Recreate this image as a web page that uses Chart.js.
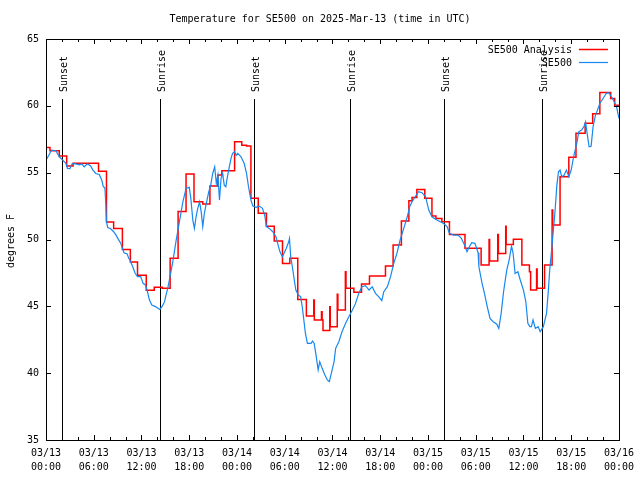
<!DOCTYPE html>
<html>
<head>
<meta charset="utf-8">
<script src="https://cdn.jsdelivr.net/npm/chart.js@4/dist/chart.umd.min.js"></script>
<style>
  body { margin: 0; background: #fff; }
  #wrap { width: 640px; height: 480px; }
</style>
</head>
<body>
<div id="wrap"><canvas id="chart" width="640" height="480"></canvas></div>
<script>
// hours since 03/13 00:00 UTC
var obsHours = [0, 0.35, 0.7, 1.25, 1.67, 2.1, 2.5, 2.7, 3.0, 3.3, 3.75, 4.2, 4.5, 4.8, 5.2, 5.6, 5.9, 6.25, 6.7, 7.0,
  7.2, 7.4, 7.5, 7.6, 7.75, 8.1, 8.5, 8.8, 9.1, 9.4, 9.6, 9.8, 10.2, 10.4, 10.6, 10.9, 11.2, 11.5, 11.9, 12.2,
  12.5, 12.7, 13.0, 13.3, 13.75, 14.2, 14.3, 14.6, 14.9, 15.1, 15.3, 15.5, 15.9, 16.36, 16.8, 17.2, 17.6, 18.0, 18.2, 18.45,
  18.65, 18.86, 19.07, 19.3, 19.5, 19.7, 19.9, 20.1, 20.45, 20.7, 20.95, 21.2, 21.4, 21.6, 21.8, 22.0, 22.2, 22.4, 22.6, 22.8,
  23.0, 23.25, 23.45, 23.7, 23.9, 24.1, 24.5, 24.9, 25.2, 25.45, 25.75, 26.0, 26.4, 26.8, 27.2, 27.5, 27.7, 28.05, 28.5, 28.9,
  29.2, 29.4, 29.7, 29.9, 30.2, 30.5, 30.6, 30.75, 30.96, 31.2, 31.4, 31.7, 32.0, 32.2, 32.4, 32.6, 32.85, 33.3, 33.5, 33.7,
  33.9, 34.2, 34.4, 34.7, 35.05, 35.35, 35.6, 35.9, 36.2, 36.4, 36.8, 37.2, 37.65, 38.06, 38.5, 38.9, 39.3, 39.7, 40.15, 40.6,
  41.0, 41.4, 41.8, 42.2, 42.45, 42.9, 43.3, 43.7, 44.1, 44.5, 44.96, 45.4, 45.7, 46.0, 46.4, 46.8, 47.25, 47.7, 48.1, 48.5,
  49.0, 49.55, 49.96, 50.4, 50.7, 51.2, 51.8, 52.2, 52.6, 52.9, 53.2, 53.5, 53.9, 54.3, 54.4, 54.8, 55.1, 55.4, 55.8, 56.2,
  56.65, 56.9, 57.2, 57.5, 57.9, 58.2, 58.5, 58.7, 58.95, 59.3, 59.6, 60.0, 60.3, 60.55, 60.8, 61.0, 61.2, 61.5, 61.85, 62.1,
  62.5, 62.7, 62.9, 63.1, 63.3, 63.5, 63.7, 63.95, 64.2, 64.4, 64.6, 64.8, 65.1, 65.4, 65.7, 66.0, 66.3, 66.7, 66.95, 67.3,
  67.6, 67.8, 68.0, 68.25, 68.5, 68.75, 69.05, 69.3, 69.6, 70.0, 70.4, 70.7, 71.05, 71.4, 71.7, 72.0];
var obsTemps = [55.94, 56.3, 56.69, 56.64, 56.19, 55.94, 55.7, 55.32, 55.3, 55.68, 55.66, 55.58, 55.66, 55.44, 55.66, 55.5, 55.19, 54.94, 54.86, 54.45,
  53.95, 53.86, 52.82, 51.33, 50.9, 50.82, 50.58, 50.33, 50.01, 49.71, 49.34, 49.01, 48.92, 48.59, 48.39, 47.96, 47.47, 47.22, 47.22, 46.72,
  46.6, 46.22, 45.47, 45.1, 44.98, 44.8, 44.77, 45.0, 45.35, 45.9, 46.35, 46.97, 48.22, 49.96, 51.45, 52.82, 53.82, 53.9, 53.08, 51.45,
  50.83, 51.7, 52.33, 52.82, 52.08, 50.96, 51.96, 52.58, 53.57, 54.07, 54.94, 55.44, 54.2, 54.82, 52.95, 54.57, 54.94, 54.07, 53.95, 54.7,
  55.32, 56.07, 56.44, 56.57, 56.3, 56.44, 56.19, 55.7, 54.94, 53.95, 52.95, 52.5, 52.4, 52.5, 52.33, 51.76, 50.96, 50.83, 50.58, 50.21,
  49.5, 49.08, 48.71, 48.96, 49.34, 49.83, 50.08, 48.71, 47.96, 46.97, 46.22, 45.85, 45.72, 44.97, 43.98, 42.98, 42.23, 42.23, 42.4, 42.23,
  41.48, 40.24, 40.86, 40.36, 39.86, 39.49, 39.36, 40.1, 40.86, 41.86, 42.35, 43.1, 43.73, 44.22, 44.72, 45.22, 45.97, 46.47, 46.55, 46.22,
  46.47, 45.97, 45.72, 45.42, 46.1, 46.47, 47.22, 48.22, 48.96, 49.96, 50.83, 51.7, 52.45, 52.82, 53.2, 53.57, 53.5, 53.2, 52.2, 51.7,
  51.5, 51.33, 51.2, 50.96, 50.46, 50.33, 50.33, 50.08, 49.58, 49.08, 49.46, 49.76, 49.71, 49.01, 47.96, 46.72, 45.97, 45.1, 44.1, 43.85,
  43.66, 43.35, 44.47, 46.09, 47.71, 48.46, 49.51, 48.96, 47.46, 47.59, 46.97, 46.22, 45.34, 43.73, 43.48, 43.48, 43.98, 43.35, 43.48, 43.1,
  43.48, 43.98, 44.47, 45.97, 47.71, 48.96, 50.33, 51.96, 54.07, 55.07, 55.2, 54.7, 54.8, 55.2, 54.7, 55.2, 56.19, 57.19, 58.06, 58.19,
  58.44, 58.8, 57.94, 56.94, 56.97, 58.44, 59.31, 59.68, 60.18, 60.55, 60.93, 60.98, 60.68, 60.3, 59.93, 59.06];

// analysis: each value holds until the next hour entry
var anaHours = [0, 0.5, 1.67, 2.6, 3.4, 6.6, 7.6, 8.5, 9.6, 10.6, 11.5, 12.6, 13.6, 14.6, 15.6, 16.6, 17.6, 18.6, 19.7, 20.6,
  21.6, 22.1, 23.7, 24.6, 25.2, 25.75, 26.67, 27.7, 28.68, 29.72, 30.64, 31.64, 32.72, 33.65, 33.72, 34.62, 34.7, 34.81, 35.66, 35.72,
  36.6, 36.68, 37.62, 37.7, 38.69, 39.65, 40.65, 42.66, 43.62, 44.66, 45.6, 46.0, 46.6, 47.6, 48.5, 49.0, 49.75, 50.7, 52.65, 54.68,
  55.68, 55.75, 56.77, 56.85, 57.77, 57.83, 58.73, 59.8, 60.75, 60.9, 61.65, 61.72, 62.65, 63.6, 63.68, 64.6, 65.7, 66.6, 67.75, 68.7,
  69.6, 70.96, 71.46, 72.0];
var anaTemps = [56.89, 56.64, 56.24, 55.49, 55.7, 55.1, 51.3, 50.83, 49.26, 48.31, 47.32, 46.2, 46.42, 46.35, 48.6, 52.1, 54.9, 52.83, 52.65, 54.0,
  54.82, 55.14, 57.32, 57.06, 57.0, 53.08, 51.96, 51.0, 49.88, 48.2, 48.6, 45.52, 44.27, 45.47, 43.98, 44.6, 43.98, 43.2, 44.97, 43.48,
  45.9, 44.72, 47.59, 46.35, 46.05, 46.67, 47.27, 48.01, 49.58, 51.38, 52.9, 53.15, 53.75, 53.08, 51.76, 51.58, 51.33, 50.38, 49.34, 48.09,
  50.0, 48.39, 50.38, 48.96, 51.0, 49.63, 50.01, 48.09, 47.59, 46.22, 47.79, 46.35, 48.09, 52.2, 51.08, 54.7, 56.15, 57.95, 58.7, 59.4,
  61.0, 60.55, 60.05, 60.05];

var eventHours = [2.04, 14.31, 26.08, 38.23, 50.0, 62.27];
var eventNames = ['Sunset', 'Sunrise', 'Sunset', 'Sunrise', 'Sunset', 'Sunrise'];

var seriesNames = ['SE500 Analysis', 'SE500'];
var seriesColors = ['#ff0000', '#1688f0'];
var yTicks = [35, 40, 45, 50, 55, 60, 65];

var FONT = '"DejaVu Sans Mono", "Liberation Mono", monospace';

function toPoints(xs, ys) {
  var pts = [];
  for (var i = 0; i < xs.length; i++) pts.push({x: xs[i], y: ys[i]});
  return pts;
}
function pad2(n) { return (n < 10 ? '0' : '') + n; }

var gnuplotLook = {
  id: 'gnuplotLook',
  beforeDatasetsDraw: function(chart) {
    var ctx = chart.ctx, a = chart.chartArea, xs = chart.scales.x;
    ctx.save();
    ctx.strokeStyle = '#000';
    ctx.lineWidth = 1;
    ctx.fillStyle = '#000';
    ctx.font = '10px ' + FONT;
    for (var i = 0; i < eventHours.length; i++) {
      var px = Math.round(xs.getPixelForValue(eventHours[i])) + 0.5;
      ctx.beginPath();
      ctx.moveTo(px, a.top + 60);
      ctx.lineTo(px, a.bottom);
      ctx.stroke();
      ctx.save();
      ctx.translate(px + 2, a.top + 53);
      ctx.rotate(-Math.PI / 2);
      ctx.textAlign = 'left';
      ctx.textBaseline = 'middle';
      ctx.fillText(eventNames[i], 0, 0);
      ctx.restore();
    }
    ctx.restore();
  },
  afterDraw: function(chart) {
    var ctx = chart.ctx, a = chart.chartArea, xs = chart.scales.x, ys = chart.scales.y;
    ctx.save();
    ctx.strokeStyle = '#000';
    ctx.lineWidth = 1;
    ctx.strokeRect(Math.round(a.left) + 0.5, Math.round(a.top) + 0.5,
      Math.round(a.right - a.left), Math.round(a.bottom - a.top));
    ctx.beginPath();
    for (var h = 0; h <= 72; h += 2) {
      var px = Math.round(xs.getPixelForValue(h)) + 0.5;
      var len = (h % 6 === 0) ? 5 : 3;
      ctx.moveTo(px, a.bottom); ctx.lineTo(px, a.bottom - len);
      ctx.moveTo(px, a.top); ctx.lineTo(px, a.top + len);
    }
    for (var k = 0; k < yTicks.length; k++) {
      var py = Math.round(ys.getPixelForValue(yTicks[k])) + 0.5;
      ctx.moveTo(a.left, py); ctx.lineTo(a.left + 5, py);
      ctx.moveTo(a.right, py); ctx.lineTo(a.right - 5, py);
    }
    ctx.stroke();

    // title and y axis title
    ctx.fillStyle = '#000';
    ctx.font = '10px ' + FONT;
    ctx.textAlign = 'center';
    ctx.textBaseline = 'middle';
    ctx.fillText('Temperature for SE500 on 2025-Mar-13 (time in UTC)', 320, 19);
    ctx.save();
    ctx.translate(11, 241);
    ctx.rotate(-Math.PI / 2);
    ctx.fillText('degrees F', 0, 0);
    ctx.restore();

    // legend: text then line sample
    ctx.textAlign = 'right';
    for (var s = 0; s < seriesNames.length; s++) {
      var ly = a.top + 11 + s * 13;
      ctx.fillText(seriesNames[s], a.right - 47, ly);
      ctx.strokeStyle = seriesColors[s];
      ctx.lineWidth = s === 0 ? 1.5 : 1.2;
      ctx.beginPath();
      ctx.moveTo(a.right - 40, ly - 0.5);
      ctx.lineTo(a.right - 11, ly - 0.5);
      ctx.stroke();
    }
    ctx.restore();
  }
};

new Chart(document.getElementById('chart'), {
  type: 'line',
  data: {
    datasets: [{
      label: seriesNames[0],
      data: toPoints(anaHours, anaTemps),
      borderColor: seriesColors[0],
      borderWidth: 1.5,
      stepped: true,
      pointRadius: 0,
      fill: false,
      order: 1
    }, {
      label: seriesNames[1],
      data: toPoints(obsHours, obsTemps),
      borderColor: seriesColors[1],
      borderWidth: 1.2,
      tension: 0,
      pointRadius: 0,
      fill: false,
      order: 0
    }]
  },
  options: {
    responsive: false,
    animation: false,
    layout: { padding: { top: 39, right: 19, left: 0, bottom: 0 } },
    plugins: { legend: { display: false }, title: { display: false }, tooltip: { enabled: false } },
    scales: {
      x: {
        type: 'linear',
        min: 0, max: 72,
        grid: { display: false, drawTicks: false },
        border: { display: true, color: '#000' },
        afterFit: function(s) { s.height = 40; },
        ticks: {
          stepSize: 6,
          autoSkip: false,
          maxRotation: 0,
          padding: 6,
          color: '#000',
          font: { family: FONT, size: 10, lineHeight: 1.4 },
          callback: function(v) {
            var day = 13 + Math.floor(v / 24);
            return ['03/' + pad2(day), pad2(v % 24) + ':00'];
          }
        }
      },
      y: {
        min: 35, max: 65,
        grid: { display: false, drawTicks: false },
        border: { display: true, color: '#000' },
        afterFit: function(s) { s.width = 46; },
        ticks: {
          stepSize: 5,
          padding: 7,
          color: '#000',
          font: { family: FONT, size: 10 }
        }
      }
    }
  },
  plugins: [gnuplotLook]
});
</script>
</body>
</html>
